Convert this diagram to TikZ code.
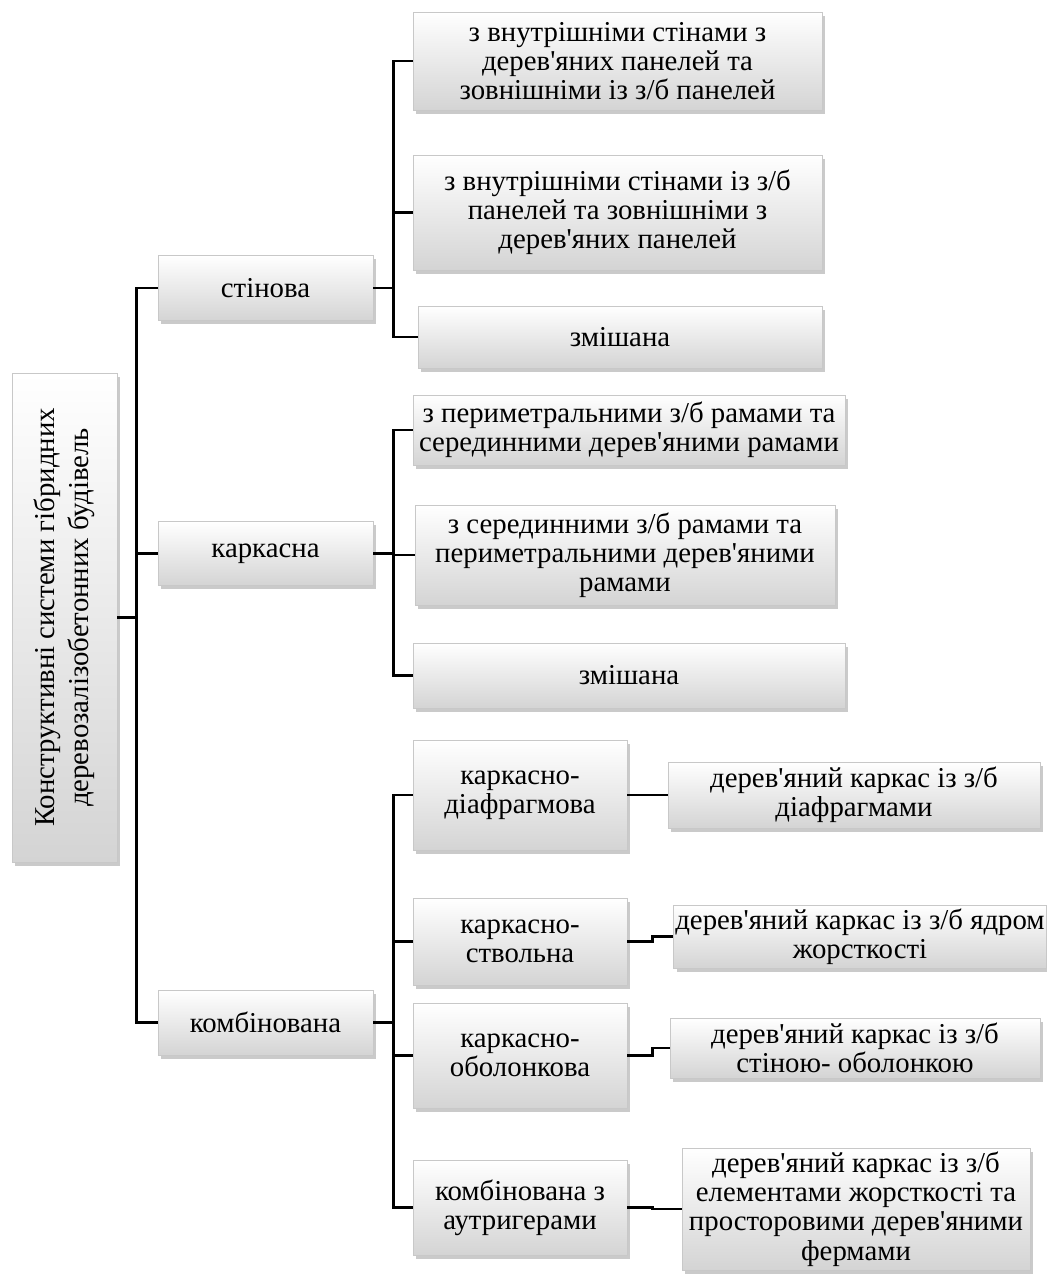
\documentclass[tikz,border=0pt]{standalone}
\usepackage{fontspec}
\setmainfont{Liberation Serif}
\usetikzlibrary{positioning,calc,shadows}
\definecolor{boxlow}{HTML}{D4D4D4}
\definecolor{boxedge}{HTML}{C8C8C8}
\newcommand{\ap}{\textquotesingle}

\begin{document}
\begin{tikzpicture}[x=0.5pt,y=-0.5pt,font=\fontsize{14.4}{14.6}\selectfont,
  bx/.style={draw=boxedge,line width=0.3pt,top color=white,bottom color=boxlow,align=center,inner sep=1pt,
    drop shadow={shadow xshift=1.6pt,shadow yshift=-1.8pt,opacity=0.35,fill=black!60}},
  ln/.style={line width=1.4pt,black}]
  \useasboundingbox (0,0) rectangle (1047,1279);
  % root
  \node[bx,rotate=90,minimum width=244.5pt,minimum height=52.5pt,font=\fontsize{14.4}{17}\selectfont] (r) at (64.5,617.5)
    {Конструктивні системи гібридних\\деревозалізобетонних будівель};
  % level 1
  \node[bx,minimum width=107.5pt,minimum height=32.5pt] (st) at (265.5,288) {стінова};
  \node[bx,minimum width=107.5pt,minimum height=32pt] (ka) at (265.5,553.5) {каркасна};
  \node[bx,minimum width=107.5pt,minimum height=32.5pt] (ko) at (265.5,1022.5) {комбінована};
  % level 2, wall
  \node[bx,minimum width=204.5pt,minimum height=49pt] (st1) at (617.5,61)
    {з внутрішніми стінами з\\дерев\ap{}яних панелей та\\зовнішніми із з/б панелей};
  \node[bx,minimum width=204.5pt,minimum height=57.5pt] (st2) at (617.5,212.5)
    {з внутрішніми стінами із з/б\\панелей та зовнішніми з\\дерев\ap{}яних панелей};
  \node[bx,minimum width=202pt,minimum height=31pt] (st3) at (620,337) {змішана};
  % level 2, frame
  \node[bx,minimum width=216pt,minimum height=35pt] (ka1) at (629,430)
    {з периметральними з/б рамами та\\серединними дерев\ap{}яними рамами};
  \node[bx,minimum width=210pt,minimum height=50pt] (ka2) at (625,555)
    {з серединними з/б рамами та\\периметральними дерев\ap{}яними\\рамами};
  \node[bx,minimum width=216pt,minimum height=32.5pt] (ka3) at (629,675.5) {змішана};
  % level 2, combined
  \node[bx,minimum width=107pt,minimum height=55pt] (ko1) at (520,795) {каркасно-\\діафрагмова};
  \node[bx,minimum width=107pt,minimum height=43.5pt] (ko2) at (520,941.5) {каркасно-\\ствольна};
  \node[bx,minimum width=107pt,minimum height=52.5pt] (ko3) at (520,1055.5) {каркасно-\\оболонкова};
  \node[bx,minimum width=107pt,minimum height=47.5pt] (ko4) at (520,1207.5) {комбінована з\\аутригерами};
  % level 3
  \node[bx,minimum width=186pt,minimum height=33pt] (d1) at (854,795)
    {дерев\ap{}яний каркас із з/б\\діафрагмами};
  \node[bx,minimum width=185pt,minimum height=31.5pt] (d2) at (860,936.5)
    {дерев\ap{}яний каркас із з/б ядром\\жорсткості};
  \node[bx,minimum width=185pt,minimum height=30pt] (d3) at (855,1048)
    {дерев\ap{}яний каркас із з/б\\стіною- оболонкою};
  \node[bx,minimum width=174pt,minimum height=61pt] (d4) at (856,1209)
    {дерев\ap{}яний каркас із з/б\\елементами жорсткості та\\просторовими дерев\ap{}яними\\фермами};
  % connectors
  \draw[ln] (r.south) -- ++(19,0) coordinate (j0);
  \foreach \n in {st,ka,ko} \draw[ln] (j0) |- (\n.west);
  \draw[ln] (st.east) -- ++(20,0) coordinate (j1);
  \foreach \n in {st1,st2,st3} \draw[ln] (j1) |- (\n.west);
  \draw[ln] (ka.east) -- ++(20,0) coordinate (j2);
  \foreach \n in {ka1,ka2,ka3} \draw[ln] (j2) |- (\n.west);
  \draw[ln] (ko.east) -- ++(20,0) coordinate (j3);
  \foreach \n in {ko1,ko2,ko3,ko4} \draw[ln] (j3) |- (\n.west);
  \draw[ln] (ko1.east) -- (d1.west);
  \foreach \a/\b in {ko2/d2,ko3/d3,ko4/d4} \draw[ln] (\a.east) -- ++(25,0) |- (\b.west);
\end{tikzpicture}
\end{document}
